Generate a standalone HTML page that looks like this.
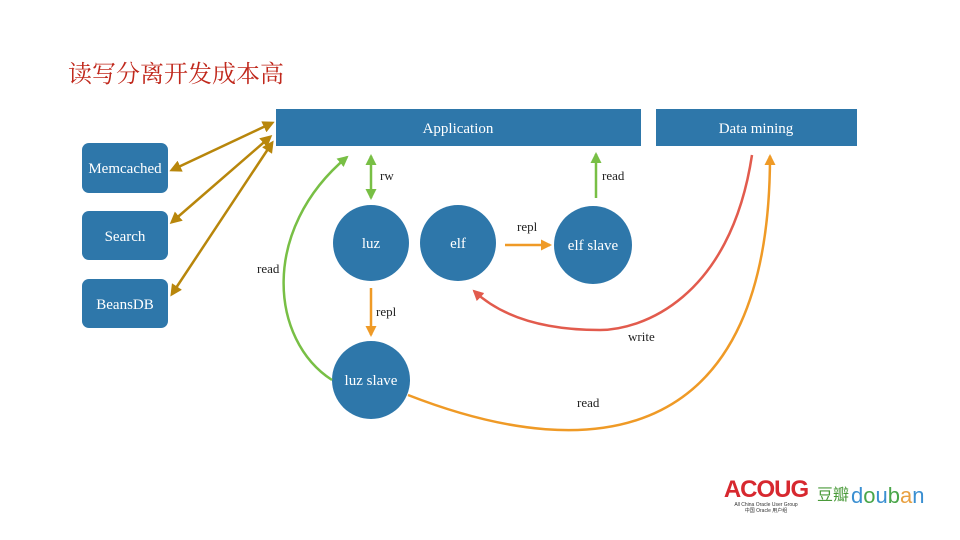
<!DOCTYPE html>
<html><head><meta charset="utf-8"><style>
body{margin:0;width:960px;height:540px;background:#fff;overflow:hidden}
svg{display:block}
text{font-family:"Liberation Serif","Noto Serif CJK SC",serif}
</style></head><body>
<svg width="960" height="540" viewBox="0 0 960 540" xmlns="http://www.w3.org/2000/svg">
<defs>
<marker id="ab" markerWidth="12" markerHeight="12" refX="9" refY="6" orient="auto-start-reverse" markerUnits="userSpaceOnUse"><path d="M0,0 L12,6 L0,12 z" fill="#b8860b"/></marker>
<marker id="ag" markerWidth="11" markerHeight="11" refX="9" refY="5.5" orient="auto-start-reverse" markerUnits="userSpaceOnUse"><path d="M0,0 L11,5.5 L0,11 z" fill="#78bf45"/></marker>
<marker id="ao" markerWidth="11" markerHeight="11" refX="9" refY="5.5" orient="auto" markerUnits="userSpaceOnUse"><path d="M0,0 L11,5.5 L0,11 z" fill="#ef9a26"/></marker>
<marker id="ar" markerWidth="11" markerHeight="11" refX="9" refY="5.5" orient="auto" markerUnits="userSpaceOnUse"><path d="M0,0 L11,5.5 L0,11 z" fill="#e25b4d"/></marker>
</defs>
<text x="68" y="82" font-size="24" fill="#c0281c" style="font-family:'Noto Serif CJK SC',serif">读写分离开发成本高</text>
<rect x="276" y="109" width="365" height="37" fill="#2e77aa"/>
<text x="458" y="133" font-size="15" fill="#fff" text-anchor="middle">Application</text>
<rect x="656" y="109" width="201" height="37" fill="#2e77aa"/>
<text x="756" y="133" font-size="15" fill="#fff" text-anchor="middle">Data mining</text>
<rect x="82" y="143" width="86" height="50" rx="7" fill="#2e77aa"/>
<text x="125" y="173" font-size="15" fill="#fff" text-anchor="middle">Memcached</text>
<rect x="82" y="211" width="86" height="49" rx="7" fill="#2e77aa"/>
<text x="125" y="241" font-size="15" fill="#fff" text-anchor="middle">Search</text>
<rect x="82" y="279" width="86" height="49" rx="7" fill="#2e77aa"/>
<text x="125" y="309" font-size="15" fill="#fff" text-anchor="middle">BeansDB</text>
<g stroke="#b8860b" stroke-width="2.5" fill="none">
<line x1="172" y1="170" x2="272" y2="123" marker-start="url(#ab)" marker-end="url(#ab)"/>
<line x1="172" y1="222" x2="270" y2="137" marker-start="url(#ab)" marker-end="url(#ab)"/>
<line x1="172" y1="294" x2="272" y2="143" marker-start="url(#ab)" marker-end="url(#ab)"/>
</g>
<circle cx="371" cy="243" r="38" fill="#2e77aa"/>
<text x="371" y="248" font-size="15" fill="#fff" text-anchor="middle">luz</text>
<circle cx="458" cy="243" r="38" fill="#2e77aa"/>
<text x="458" y="248" font-size="15" fill="#fff" text-anchor="middle">elf</text>
<circle cx="593" cy="245" r="39" fill="#2e77aa"/>
<text x="593" y="250" font-size="15" fill="#fff" text-anchor="middle">elf slave</text>
<circle cx="371" cy="380" r="39" fill="#2e77aa"/>
<text x="371" y="385" font-size="15" fill="#fff" text-anchor="middle">luz slave</text>
<g fill="none" stroke-width="2.5">
<line x1="371" y1="156" x2="371" y2="198" stroke="#78bf45" marker-start="url(#ag)" marker-end="url(#ag)"/>
<line x1="596" y1="198" x2="596" y2="154" stroke="#78bf45" marker-end="url(#ag)"/>
<path d="M332,380 C270,340 260,230 347,157" stroke="#78bf45" marker-end="url(#ag)"/>
<line x1="371" y1="288" x2="371" y2="335" stroke="#ef9a26" marker-end="url(#ao)"/>
<line x1="505" y1="245" x2="550" y2="245" stroke="#ef9a26" marker-end="url(#ao)"/>
<path d="M408,395 C600,470 770,440 770,156" stroke="#ef9a26" marker-end="url(#ao)"/>
<path d="M752,155 C730,300 640,330 600,330 C550,330 505,320 474,291" stroke="#e25b4d" marker-end="url(#ar)"/>
</g>
<g font-size="13" fill="#222">
<text x="380" y="180">rw</text>
<text x="602" y="180">read</text>
<text x="517" y="231">repl</text>
<text x="376" y="316">repl</text>
<text x="257" y="273">read</text>
<text x="628" y="341">write</text>
<text x="577" y="407">read</text>
</g>
<text x="766" y="497" font-size="24" font-weight="bold" fill="#d7282f" text-anchor="middle" style="font-family:'Liberation Sans',sans-serif;letter-spacing:-1px">ACOUG</text>
<text x="766" y="506" font-size="5" fill="#333" text-anchor="middle" style="font-family:'Liberation Sans',sans-serif">All China Oracle User Group</text>
<text x="766" y="512" font-size="5" fill="#333" text-anchor="middle" style="font-family:'Liberation Sans','Noto Sans CJK SC',sans-serif">中国 Oracle 用户组</text>
<text x="817" y="500" font-size="16" fill="#4a9a3a" style="font-family:'Noto Sans CJK SC',sans-serif">豆瓣</text>
<text x="851" y="503" font-size="22" style="font-family:'Liberation Sans',sans-serif"><tspan fill="#3a8fd1">d</tspan><tspan fill="#4aa64a">o</tspan><tspan fill="#3a8fd1">u</tspan><tspan fill="#4aa64a">b</tspan><tspan fill="#e8a040">a</tspan><tspan fill="#3a8fd1">n</tspan></text>
</svg>
</body></html>
